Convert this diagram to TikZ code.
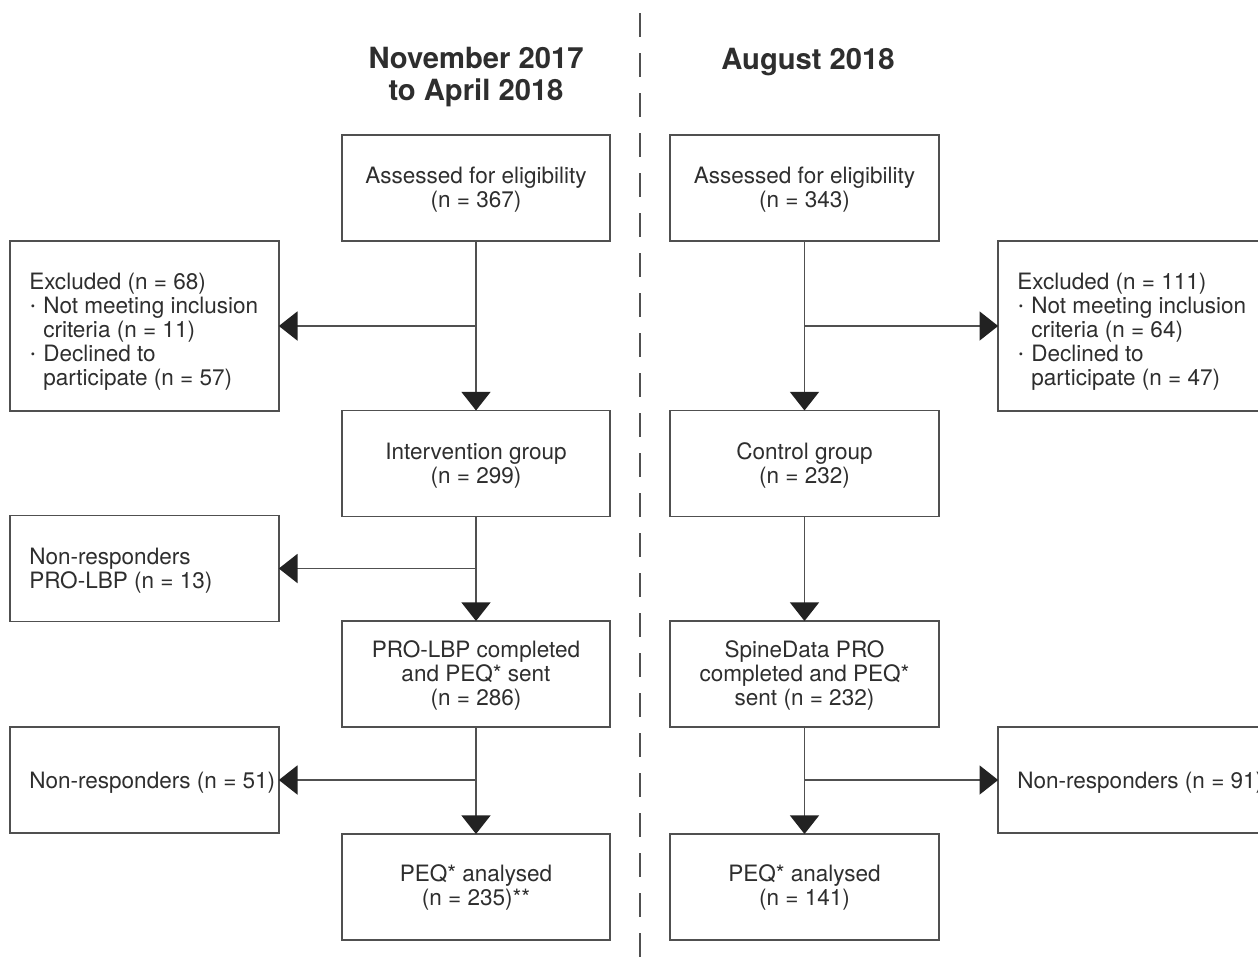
\documentclass[tikz,border=0pt]{standalone}
\usepackage{fontspec}
\setmainfont{TeX Gyre Heros}
\usetikzlibrary{arrows.meta}
\definecolor{ink}{HTML}{2E2E2E}
\definecolor{rule}{HTML}{505050}
\definecolor{tip}{HTML}{222222}
\newcommand{\itemdot}{\makebox[10.5pt][l]{\hspace{1.2pt}\raisebox{2.2pt}{\fontsize{9}{9}\selectfont\textbullet}}}
\begin{document}
\begin{tikzpicture}[x=0.75pt,y=-0.75pt,
  box/.style={draw=rule, line width=1.3pt, fill=white, inner sep=0pt, outer sep=0pt,
    minimum width=201.5pt, minimum height=79.5pt},
  boxtext/.style={align=center, inner sep=0pt, text=ink,
    font=\fontsize{16.9}{18}\selectfont},
  tallbox/.style={box, minimum height=127.5pt},
  sidetext/.style={anchor=west, align=left, inner sep=0pt, text=ink,
    font=\fontsize{16.9}{18}\selectfont},
  heading/.style={align=center, inner sep=0pt, text=ink,
    font=\fontsize{21.9}{24}\selectfont\bfseries},
  flow/.style={draw=rule, line width=1.3pt},
  arr/.style={flow, -{Triangle[width=21.75pt,length=14pt,color=tip]}},
  divider/.style={draw=rule, line width=1.3pt, dash pattern=on 18pt off 12pt}
]
\clip (0,0) rectangle (1258,968);
\fill[white] (0,0) rectangle (1258,968);

% column divider
\coordinate (dtop) at (640,13);
\coordinate (dbot) at (640,968);
\draw[divider] (dtop) -- (dbot);

% headings
\node[heading] (h1) at (476,77) {November 2017\\to April 2018};
\node[heading] (h2) at (808,62) {August 2018};

% left column
\node[box] (a1) at (476,188) {};
\node[boxtext] (a1t) at (476,190) {Assessed for eligibility\\(n = 367)};
\node[box] (i1) at (476,463.5) {};
\node[boxtext] (i1t) at (476,465.5) {Intervention group\\(n = 299)};
\node[box] (c1) at (476,674) {};
\node[boxtext] (c1t) at (476,675) {PRO-LBP completed\\and PEQ* sent\\(n = 286)};
\node[box] (p1) at (476,887) {};
\node[boxtext] (p1t) at (476,887) {PEQ* analysed\\(n = 235)**};

\node[tallbox] (e1) at (144.5,326) {};
\node[sidetext] (e1t) at (29,332) {Excluded (n = 68)\\
  \itemdot Not meeting inclusion\\
  \hspace*{10.5pt}criteria (n = 11)\\
  \itemdot Declined to\\
  \hspace*{10.5pt}participate (n = 57)};
\node[box] (n1) at (144.5,568.5) {};
\node[sidetext] (n1t) at (29,571) {Non-responders\\PRO-LBP (n = 13)};
\node[box] (r1) at (144.5,780) {};
\node[sidetext] (r1t) at (29,783) {Non-responders (n = 51)};

% right column
\node[box] (a2) at (804.5,188) {};
\node[boxtext] (a2t) at (804.5,190) {Assessed for eligibility\\(n = 343)};
\node[box] (i2) at (804.5,463.5) {};
\node[boxtext] (i2t) at (804.5,465.5) {Control group\\(n = 232)};
\node[box] (c2) at (804.5,674) {};
\node[boxtext] (c2t) at (804.5,675) {SpineData PRO\\completed and PEQ*\\sent (n = 232)};
\node[box] (p2) at (804.5,887) {};
\node[boxtext] (p2t) at (804.5,887) {PEQ* analysed\\(n = 141)};

\node[tallbox] (e2) at (1132.5,326) {};
\node[sidetext] (e2t) at (1017,332) {Excluded (n = 111)\\
  \itemdot Not meeting inclusion\\
  \hspace*{10.5pt}criteria (n = 64)\\
  \itemdot Declined to\\
  \hspace*{10.5pt}participate (n = 47)};
\node[box] (r2) at (1132.5,780) {};
\node[sidetext] (r2t) at (1017,783) {Non-responders (n = 91)};

% left flow
\draw[arr] (a1.south) -- (i1.north);
\draw[arr] (a1.south |- e1.east) -- (e1.east);
\draw[arr] (i1.south) -- (c1.north);
\draw[arr] (i1.south |- n1.east) -- (n1.east);
\draw[arr] (c1.south) -- (p1.north);
\draw[arr] (c1.south |- r1.east) -- (r1.east);

% right flow
\draw[arr] (a2.south) -- (i2.north);
\draw[arr] (a2.south |- e2.west) -- (e2.west);
\draw[arr] (i2.south) -- (c2.north);
\draw[arr] (c2.south) -- (p2.north);
\draw[arr] (c2.south |- r2.west) -- (r2.west);
\end{tikzpicture}
\end{document}
